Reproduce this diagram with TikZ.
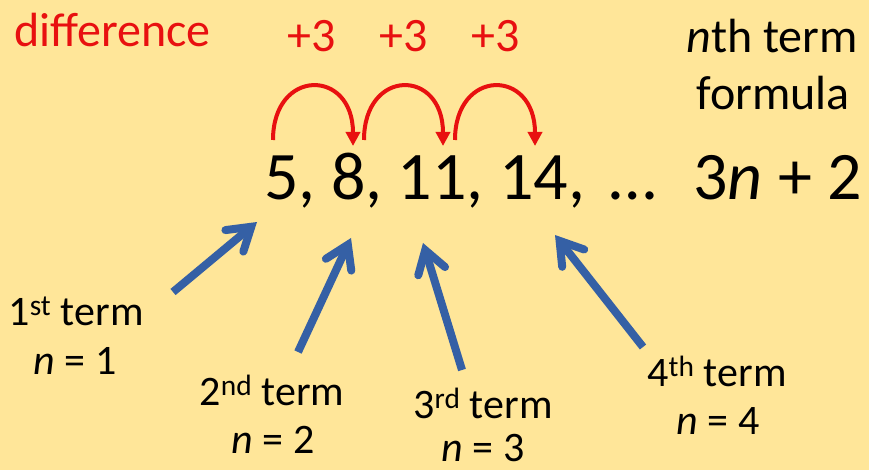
\documentclass[tikz,border=0pt]{standalone}
\usepackage{fontspec}
\setmainfont{Carlito}
\usetikzlibrary{arrows.meta}
\definecolor{bg}{HTML}{FFE699}
\definecolor{dred}{HTML}{E81010}
\definecolor{ablue}{HTML}{3560A5}
\begin{document}
\begin{tikzpicture}[x=1pt,y=-1pt,
  lbl/.style={inner sep=0pt, anchor=base, font=\fontsize{42}{48}\selectfont},
  toplbl/.style={inner sep=0pt, anchor=base, font=\fontsize{48}{54}\selectfont},
  seqtxt/.style={inner sep=0pt, anchor=base west, font=\fontsize{68}{78}\selectfont},
  redarc/.style={draw=dred, line width=4pt, -{Triangle[length=14pt,width=14pt]}},
  bluearrow/.style={draw=ablue, line width=8pt, -{Straight Barb[length=22pt,width=28pt,line cap=round]}}]
\fill[bg] (0,0) rectangle (869,470);
\useasboundingbox (0,0) rectangle (869,470);

% top labels
\node[toplbl, anchor=base west, text=dred] (diff) at (14,47) {difference};
\node[toplbl, text=dred] (d1) at (312,52) {+3};
\node[toplbl, text=dred] (d2) at (404,52) {+3};
\node[toplbl, text=dred] (d3) at (496,52) {+3};
\node[toplbl] (nth) at (772,53) {\textit{n}th term};
\node[toplbl] (form) at (773,110) {formula};

% sequence
\node[seqtxt] (seq) at (264,200) {5, 8, 11, 14,};
\node[seqtxt] (dots) at (609,200) {…};
\node[seqtxt] (formula) at (693,200) {3\textit{n} + 2};

% red difference arcs
\coordinate (s1) at (273,140); \coordinate (e1) at (353,146);
\coordinate (s2) at (364,140); \coordinate (e2) at (443,146);
\coordinate (s3) at (455,140); \coordinate (e3) at (535,146);
\draw[redarc] (s1) .. controls (273,68) and (353,68) .. (e1);
\draw[redarc] (s2) .. controls (364,68) and (443,68) .. (e2);
\draw[redarc] (s3) .. controls (455,68) and (535,68) .. (e3);

% term labels
\node[lbl] (t1) at (76,325) {1\textsuperscript{st} term};
\node[lbl] (n1) at (75,374) {\textit{n} = 1};
\node[lbl] (t2) at (272,405) {2\textsuperscript{nd} term};
\node[lbl] (n2) at (273,453) {\textit{n} = 2};
\node[lbl] (t3) at (483,418) {3\textsuperscript{rd} term};
\node[lbl] (n3) at (483,461) {\textit{n} = 3};
\node[lbl] (t4) at (717,386) {4\textsuperscript{th} term};
\node[lbl] (n4) at (718,434) {\textit{n} = 4};

% blue arrows
\coordinate (a1s) at (173,292); \coordinate (a1e) at (257,222);
\coordinate (a2s) at (298,352); \coordinate (a2e) at (351,238);
\coordinate (a3s) at (462,370); \coordinate (a3e) at (423,243);
\coordinate (a4s) at (643,347); \coordinate (a4e) at (555,235);
\draw[bluearrow] (a1s) -- (a1e);
\draw[bluearrow] (a2s) -- (a2e);
\draw[bluearrow] (a3s) -- (a3e);
\draw[bluearrow] (a4s) -- (a4e);
\end{tikzpicture}
\end{document}
